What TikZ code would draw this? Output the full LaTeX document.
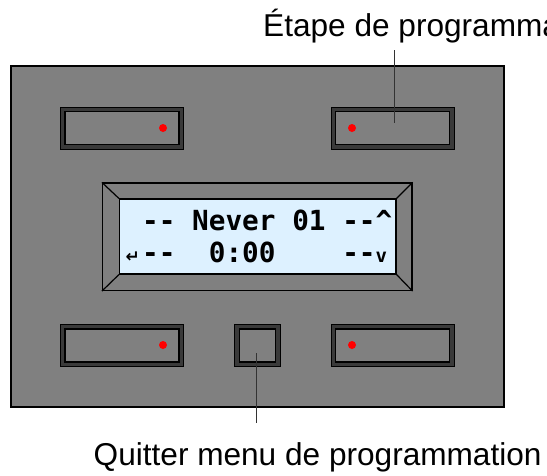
\documentclass[tikz,border=0pt]{standalone}
\usepackage{fontspec}
\setmainfont{Liberation Sans}
\newfontfamily\lcdfont{DejaVu Sans Mono}
\newfontfamily\symfont{DejaVu Sans}
\definecolor{panelgray}{HTML}{808080}
\definecolor{btndark}{HTML}{3A3A3A}
\definecolor{screenblue}{HTML}{DDF1FF}
\definecolor{leadgray}{HTML}{333333}
\begin{document}
\begin{tikzpicture}[x=1pt,y=-1pt,
  panel/.style={draw=black, line width=1.5pt, fill=panelgray, inner sep=0pt},
  btnframe/.style={draw=black, line width=1pt, fill=btndark, inner sep=0pt},
  btnface/.style={draw=black, line width=1.3pt, fill=panelgray, inner sep=0pt},
  reddot/.style={circle, fill=red, inner sep=0pt, minimum size=8pt},
  bezel/.style={draw=black, line width=1.2pt, fill=panelgray, inner sep=0pt},
  screen/.style={draw=black, line width=1.2pt, fill=screenblue, inner sep=0pt},
  lcdtext/.style={anchor=base west, inner sep=0pt, font=\lcdfont\bfseries\fontsize{27.7}{27.7}\selectfont},
  label/.style={anchor=base west, inner sep=0pt, font=\fontsize{31.6}{31.6}\selectfont},
  lead/.style={draw=leadgray, line width=1pt}
]
\useasboundingbox (0,0) rectangle (547,475);
\clip (0,0) rectangle (547,475);
% panel
\node[panel, minimum width=493pt, minimum height=341pt] (pnl) at (257.5,236.5) {};
% top buttons
\node[btnframe, minimum width=123pt, minimum height=42pt] (b1) at (122,128) {};
\node[btnface, minimum width=114pt, minimum height=33pt] (b1f) at (b1) {};
\node[reddot] (d1) at (163,128) {};
\node[btnframe, minimum width=123pt, minimum height=42pt] (b2) at (392.5,128) {};
\node[btnface, minimum width=114pt, minimum height=33pt] (b2f) at (b2) {};
\node[reddot] (d2) at (352,128) {};
% bottom buttons
\node[btnframe, minimum width=123pt, minimum height=42pt] (b3) at (122,345.5) {};
\node[btnface, minimum width=114pt, minimum height=33pt] (b3f) at (b3) {};
\node[reddot] (d3) at (163,345) {};
\node[btnframe, minimum width=46pt, minimum height=42pt] (b5) at (257.5,345.5) {};
\node[btnface, minimum width=36pt, minimum height=33pt] (b5f) at (b5) {};
\node[btnframe, minimum width=123pt, minimum height=42pt] (b4) at (392.5,345.5) {};
\node[btnface, minimum width=114pt, minimum height=33pt] (b4f) at (b4) {};
\node[reddot] (d4) at (352,345) {};
% LCD
\node[bezel, minimum width=309.5pt, minimum height=107.5pt] (lcd) at (257.25,236.75) {};
\node[screen, minimum width=276.5pt, minimum height=75pt] (scr) at (257.75,236.5) {};
\draw[line width=1.2pt] (lcd.north west) -- (scr.north west);
\draw[line width=1.2pt] (lcd.north east) -- (scr.north east);
\draw[line width=1.2pt] (lcd.south west) -- (scr.south west);
\draw[line width=1.2pt] (lcd.south east) -- (scr.south east);
\node[lcdtext] (row1) at (125.3,230) {~--~Never~01~--\^{}};
\node[lcdtext] (row2) at (125.3,262) {\makebox[16.67pt][l]{\symfont\bfseries\fontsize{17}{17}\selectfont ↵}--~~0:00~~~~--{\fontsize{19}{19}\selectfont v}};
% labels
\node[label] (lbltop) at (263,36) {Étape de programmation};
\node[label] (lblbot) at (93.5,465) {Quitter menu de programmation};
\coordinate (t1) at (394,50);
\coordinate (t2) at (394,123);
\draw[lead] (t1) -- (t2);
\coordinate (q1) at (256,353);
\coordinate (q2) at (256,423);
\draw[lead] (q1) -- (q2);
\end{tikzpicture}
\end{document}
